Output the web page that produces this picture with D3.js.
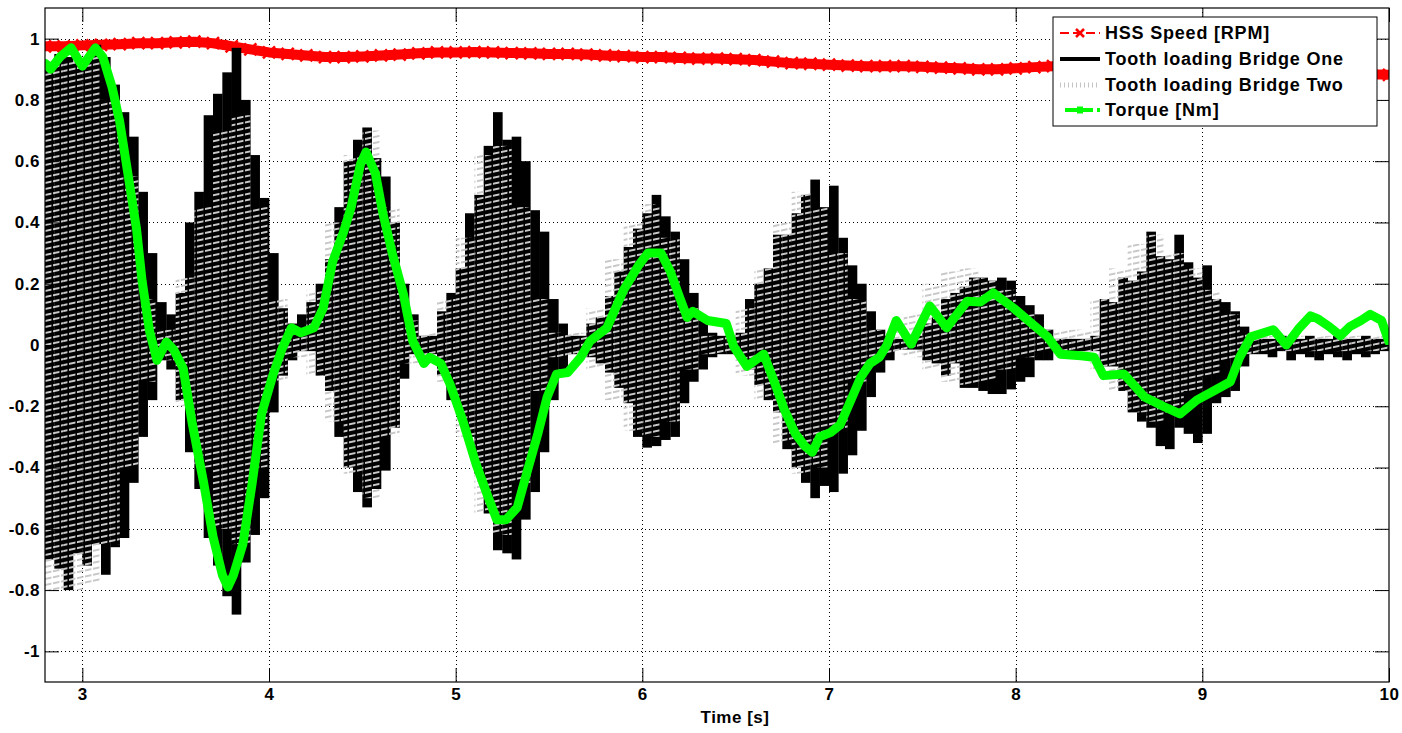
<!DOCTYPE html>
<html>
<head>
<meta charset="utf-8">
<script src="https://cdn.jsdelivr.net/npm/d3@7"></script>
<style>
  body { margin: 0; background: #fff; }
  svg text { font-family: "Liberation Sans", Arial, Helvetica, sans-serif; fill: #000; }
</style>
</head>
<body>
<svg id="chart" width="1402" height="733"></svg>
<script>
// ---- data ---------------------------------------------------------------
// Tooth loading, bridge one: min / max of the signal in 0.05 s windows from 2.8 s
const bridgeOneStart = 2.8;
const bridgeOneStep = 0.05;
const bridgeOneUpper = [
  0.91,0.95,0.94,0.92,0.93,0.98,0.94,0.85,0.76,0.68,
  0.50,0.30,0.14,0.10,0.17,0.40,0.50,0.75,0.82,0.89,
  0.97,0.80,0.62,0.48,0.30,0.12,0.07,0.10,0.14,0.20,
  0.28,0.45,0.60,0.67,0.71,0.61,0.55,0.40,0.20,0.10,
  0.03,0.03,0.11,0.17,0.25,0.43,0.49,0.65,0.76,0.67,
  0.68,0.60,0.44,0.37,0.15,0.07,0.03,0.03,0.07,0.09,
  0.16,0.24,0.32,0.38,0.43,0.49,0.42,0.37,0.28,0.17,
  0.08,0.04,0.03,0.03,0.04,0.15,0.20,0.25,0.36,0.36,
  0.43,0.49,0.54,0.45,0.52,0.35,0.26,0.20,0.11,0.05,
  0.03,0.02,0.02,0.03,0.07,0.09,0.15,0.17,0.19,0.22,
  0.22,0.21,0.22,0.21,0.16,0.13,0.10,0.05,0.02,0.02,
  0.02,0.02,0.03,0.15,0.14,0.22,0.21,0.24,0.37,0.29,
  0.28,0.36,0.27,0.22,0.26,0.15,0.14,0.11,0.06,0.02,
  0.02,0.02,0.03,0.02,0.02,0.03,0.02,0.02,0.03,0.02,
  0.02,0.03,0.02,0.02
];
const bridgeOneLower = [
  -0.70,-0.73,-0.80,-0.68,-0.72,-0.65,-0.75,-0.66,-0.63,-0.45,
  -0.30,-0.18,-0.05,-0.08,-0.18,-0.35,-0.47,-0.63,-0.72,-0.82,
  -0.88,-0.71,-0.62,-0.50,-0.22,-0.10,-0.05,-0.02,-0.02,-0.10,
  -0.15,-0.30,-0.40,-0.48,-0.53,-0.47,-0.41,-0.27,-0.11,-0.03,
  -0.03,-0.03,-0.10,-0.18,-0.22,-0.30,-0.42,-0.55,-0.67,-0.68,
  -0.70,-0.57,-0.48,-0.35,-0.18,-0.08,-0.03,-0.02,-0.04,-0.06,
  -0.09,-0.14,-0.19,-0.30,-0.335,-0.33,-0.31,-0.30,-0.19,-0.12,
  -0.08,-0.04,-0.03,-0.03,-0.04,-0.08,-0.13,-0.18,-0.22,-0.34,
  -0.40,-0.45,-0.50,-0.46,-0.48,-0.42,-0.36,-0.28,-0.17,-0.09,
  -0.05,-0.015,-0.015,-0.015,-0.05,-0.06,-0.10,-0.06,-0.14,-0.14,
  -0.15,-0.16,-0.16,-0.145,-0.12,-0.105,-0.05,-0.05,-0.02,-0.02,
  -0.02,-0.02,-0.02,-0.07,-0.07,-0.15,-0.22,-0.25,-0.27,-0.33,
  -0.34,-0.27,-0.29,-0.32,-0.29,-0.19,-0.17,-0.15,-0.07,-0.03,
  -0.03,-0.04,-0.02,-0.05,-0.03,-0.04,-0.05,-0.03,-0.04,-0.05,
  -0.03,-0.04,-0.03,-0.02
];

// Tooth loading, bridge two: min / max in 0.1 s windows from 2.8 s
const bridgeTwoStart = 2.8;
const bridgeTwoStep = 0.1;
const bridgeTwoUpper = [
  0.93,0.93,0.95,0.80,0.55,0.15,0.05,0.22,0.45,0.70,
  0.75,0.45,0.15,0.05,0.18,0.40,0.62,0.70,0.45,0.08,
  0.04,0.15,0.35,0.62,0.65,0.45,0.15,0.04,0.04,0.12,
  0.28,0.40,0.46,0.35,0.12,0.03,0.03,0.12,0.25,0.40,
  0.50,0.45,0.30,0.15,0.05,0.05,0.10,0.20,0.24,0.25,
  0.22,0.18,0.10,0.05,0.05,0.05,0.15,0.25,0.33,0.36,
  0.30,0.25,0.18,0.10,0.04,0.03,0.03,0.03,0.03,0.03,
  0.03,0.03
];
const bridgeTwoLower = [
  -0.80,-0.80,-0.78,-0.65,-0.40,-0.12,-0.05,-0.20,-0.40,-0.60,
  -0.65,-0.40,-0.12,-0.04,-0.10,-0.25,-0.42,-0.50,-0.30,-0.06,
  -0.03,-0.12,-0.30,-0.55,-0.62,-0.45,-0.15,-0.04,-0.03,-0.08,
  -0.18,-0.28,-0.30,-0.25,-0.08,-0.03,-0.03,-0.10,-0.18,-0.32,
  -0.42,-0.40,-0.28,-0.12,-0.04,-0.03,-0.04,-0.08,-0.12,-0.13,
  -0.12,-0.08,-0.04,-0.02,-0.02,-0.02,-0.08,-0.15,-0.22,-0.25,
  -0.22,-0.15,-0.10,-0.05,-0.03,-0.02,-0.02,-0.02,-0.02,-0.02,
  -0.02,-0.02
];

// HSS speed (normalised), one value every 0.1 s from 2.8 s to 10 s
const speedStart = 2.8;
const speedStep = 0.1;
const speedValue = [
  0.975,0.975,0.978,0.980,0.982,0.985,0.985,0.988,0.990,0.985,
  0.975,0.965,0.955,0.950,0.945,0.940,0.940,0.942,0.945,0.948,
  0.952,0.955,0.955,0.956,0.955,0.953,0.952,0.950,0.950,0.948,
  0.945,0.943,0.940,0.940,0.937,0.935,0.935,0.933,0.930,0.925,
  0.920,0.918,0.915,0.912,0.910,0.910,0.910,0.908,0.905,0.903,
  0.900,0.900,0.903,0.907,0.910,0.912,0.915,0.915,0.915,0.912,
  0.910,0.908,0.905,0.903,0.900,0.898,0.895,0.892,0.890,0.888,
  0.886,0.884,0.882
];

// Torque (normalised)
const torqueTime = [
  2.80,2.83,2.88,2.94,3.00,3.07,3.11,3.16,3.20,3.24,
  3.29,3.32,3.36,3.40,3.45,3.49,3.54,3.59,3.65,3.70,
  3.75,3.78,3.81,3.86,3.91,3.96,4.02,4.07,4.12,4.17,
  4.24,4.29,4.34,4.40,4.44,4.49,4.52,4.57,4.61,4.66,
  4.72,4.77,4.83,4.86,4.92,4.97,5.04,5.11,5.17,5.22,
  5.27,5.33,5.38,5.44,5.49,5.54,5.60,5.67,5.72,5.81,
  5.90,5.98,6.03,6.10,6.15,6.20,6.24,6.27,6.35,6.45,
  6.49,6.56,6.65,6.71,6.76,6.82,6.87,6.91,6.95,7.01,
  7.06,7.11,7.17,7.22,7.27,7.31,7.36,7.44,7.54,7.63,
  7.74,7.81,7.88,7.99,8.09,8.17,8.24,8.35,8.42,8.47,
  8.58,8.69,8.79,8.88,8.97,9.06,9.15,9.20,9.26,9.38,
  9.45,9.52,9.58,9.62,9.68,9.74,9.79,9.85,9.90,9.96,
  10.00
];
const torqueValue = [
  0.92,0.90,0.94,0.97,0.91,0.97,0.94,0.84,0.73,0.575,
  0.38,0.21,0.045,-0.05,0.01,-0.016,-0.076,-0.26,-0.45,-0.625,
  -0.75,-0.79,-0.75,-0.65,-0.45,-0.225,-0.10,-0.0125,0.056,0.04,
  0.056,0.12,0.27,0.37,0.45,0.59,0.63,0.56,0.43,0.30,
  0.166,0.013,-0.06,-0.04,-0.06,-0.128,-0.25,-0.39,-0.49,-0.57,
  -0.57,-0.53,-0.42,-0.29,-0.17,-0.095,-0.09,-0.04,0.013,0.056,
  0.18,0.26,0.30,0.30,0.24,0.155,0.09,0.11,0.08,0.07,
  -0.005,-0.07,-0.03,-0.125,-0.21,-0.29,-0.33,-0.35,-0.30,-0.285,
  -0.26,-0.19,-0.105,-0.06,-0.04,0.0,0.08,0.003,0.127,0.056,
  0.143,0.14,0.17,0.12,0.068,0.027,-0.03,-0.035,-0.04,-0.10,
  -0.095,-0.17,-0.20,-0.225,-0.18,-0.15,-0.12,-0.04,0.027,0.05,
  0.0,0.056,0.095,0.085,0.06,0.03,0.06,0.08,0.10,0.08,
  0.01
];

// Axes
const xDomain = [2.8, 10];
const yDomain = [-1.1, 1.1];
const xTicks = [3, 4, 5, 6, 7, 8, 9, 10];
const xTickLabels = ["3", "4", "5", "6", "7", "8", "9", "10"];
const yTicks = [-1, -0.8, -0.6, -0.4, -0.2, 0, 0.2, 0.4, 0.6, 0.8, 1];
const yTickLabels = ["-1", "-0.8", "-0.6", "-0.4", "-0.2", "0", "0.2", "0.4", "0.6", "0.8", "1"];
const xLabel = "Time [s]";
const legendLabels = ["HSS Speed [RPM]", "Tooth loading Bridge One", "Tooth loading Bridge Two", "Torque [Nm]"];

// ---- layout -------------------------------------------------------------
const margin = { left: 45, right: 13, top: 8, bottom: 51 };
const W = 1402, H = 733;
const pw = W - margin.left - margin.right;
const ph = H - margin.top - margin.bottom;

const svg = d3.select("#chart");
const defs = svg.append("defs");
defs.append("clipPath").attr("id", "plotClip")
  .append("rect").attr("width", pw).attr("height", ph);

// slanted dash hatch used for the dotted light-grey trace
const hatch = defs.append("pattern").attr("id", "bridgeTwoHatch")
  .attr("patternUnits", "userSpaceOnUse")
  .attr("patternTransform", "skewY(-12)")
  .attr("width", 8).attr("height", 6);
hatch.append("rect").attr("x", 0).attr("y", 0).attr("width", 6.5).attr("height", 2).attr("fill", "#c8c8c8");

const g = svg.append("g").attr("transform", `translate(${margin.left},${margin.top})`);
const x = d3.scaleLinear().domain(xDomain).range([0, pw]);
const y = d3.scaleLinear().domain(yDomain).range([ph, 0]);

g.append("rect").attr("width", pw).attr("height", ph).attr("fill", "#fff");

// grid
const grid = g.append("g").attr("stroke", "#000").attr("stroke-width", 1)
  .attr("stroke-dasharray", "1,3").attr("shape-rendering", "crispEdges");
grid.selectAll("line.vx").data(xTicks.filter(t => t < xDomain[1])).join("line")
  .attr("x1", d => Math.round(x(d)) + 0.5).attr("x2", d => Math.round(x(d)) + 0.5)
  .attr("y1", 0).attr("y2", ph);
grid.selectAll("line.hy").data(yTicks).join("line")
  .attr("y1", d => Math.round(y(d)) + 0.5).attr("y2", d => Math.round(y(d)) + 0.5)
  .attr("x1", 0).attr("x2", pw);

const plot = g.append("g").attr("clip-path", "url(#plotClip)");

// HSS speed
const speedPts = speedValue.map((v, i) => [speedStart + i * speedStep, v]);
const line = d3.line().x(d => x(d[0])).y(d => y(d[1]));
plot.append("path").datum(speedPts).attr("d", line)
  .attr("fill", "none").attr("stroke", "#ff0000").attr("stroke-width", 10)
  .attr("stroke-linejoin", "round");
plot.append("g").selectAll("path").data(speedPts).join("path")
  .attr("transform", d => `translate(${x(d[0])},${y(d[1])})`)
  .attr("d", "M-6,-6L6,6M-6,6L6,-6")
  .attr("stroke", "#ff0000").attr("stroke-width", 2.5);

// bridge one
plot.append("g").selectAll("rect").data(bridgeOneUpper.map((u, i) => ({
  t: bridgeOneStart + i * bridgeOneStep, hi: u, lo: bridgeOneLower[i]
}))).join("rect")
  .attr("x", d => x(d.t))
  .attr("width", d => x(d.t + bridgeOneStep) - x(d.t) + 0.3)
  .attr("y", d => y(d.hi))
  .attr("height", d => y(d.lo) - y(d.hi))
  .attr("fill", "#000");

// bridge two
plot.append("g").selectAll("rect").data(bridgeTwoUpper.map((u, i) => ({
  t: bridgeTwoStart + i * bridgeTwoStep, hi: u, lo: bridgeTwoLower[i]
}))).join("rect")
  .attr("x", d => x(d.t))
  .attr("width", d => x(d.t + bridgeTwoStep) - x(d.t))
  .attr("y", d => y(d.hi))
  .attr("height", d => y(d.lo) - y(d.hi))
  .attr("fill", "url(#bridgeTwoHatch)");

// torque
plot.append("path").datum(torqueTime.map((t, i) => [t, torqueValue[i]])).attr("d", line)
  .attr("fill", "none").attr("stroke", "#00ff00").attr("stroke-width", 9)
  .attr("stroke-linejoin", "round").attr("stroke-linecap", "round");

// axes (ticks inside, mirrored on top/right)
const tickLen = 14;
const axB = g.append("g").attr("transform", `translate(0,${ph})`)
  .call(d3.axisBottom(x).tickValues(xTicks).tickFormat((d, i) => xTickLabels[i])
    .tickSizeInner(-tickLen).tickSizeOuter(0).tickPadding(6));
const axL = g.append("g")
  .call(d3.axisLeft(y).tickValues(yTicks).tickFormat((d, i) => yTickLabels[i])
    .tickSizeInner(-tickLen).tickSizeOuter(0).tickPadding(5));
const axT = g.append("g")
  .call(d3.axisTop(x).tickValues(xTicks).tickFormat("").tickSizeInner(-tickLen).tickSizeOuter(0));
const axR = g.append("g").attr("transform", `translate(${pw},0)`)
  .call(d3.axisRight(y).tickValues(yTicks).tickFormat("").tickSizeInner(-tickLen).tickSizeOuter(0));
[axB, axL, axT, axR].forEach(a => {
  a.select(".domain").remove();
  a.selectAll("line").attr("stroke", "#000").attr("stroke-width", 1);
  a.selectAll("text").attr("font-size", 17).attr("font-weight", "bold")
    .attr("letter-spacing", "0.5px").attr("fill", "#000");
});
g.append("rect").attr("width", pw).attr("height", ph)
  .attr("fill", "none").attr("stroke", "#000").attr("stroke-width", 1.2);

g.append("text").attr("x", pw / 2 + 18).attr("y", ph + 41)
  .attr("text-anchor", "middle").attr("font-size", 17).attr("font-weight", "bold")
  .attr("letter-spacing", "0.5px").text(xLabel);

// legend
const lg = svg.append("g").attr("transform", "translate(1053,17)");
lg.append("rect").attr("width", 324).attr("height", 109)
  .attr("fill", "#fff").attr("stroke", "#000").attr("stroke-width", 1);
const rowY = [16, 42, 68, 93];
const sx0 = 7, sx1 = 47, tx = 52;
// speed sample
lg.append("line").attr("x1", sx0).attr("x2", sx1).attr("y1", rowY[0]).attr("y2", rowY[0])
  .attr("stroke", "#ff0000").attr("stroke-width", 2).attr("stroke-dasharray", "9,4");
lg.append("path").attr("transform", `translate(${(sx0 + sx1) / 2},${rowY[0]})`)
  .attr("d", "M-4,-4L4,4M-4,4L4,-4").attr("stroke", "#ff0000").attr("stroke-width", 2.5);
// bridge one sample
lg.append("line").attr("x1", sx0).attr("x2", sx1).attr("y1", rowY[1]).attr("y2", rowY[1])
  .attr("stroke", "#000").attr("stroke-width", 4);
// bridge two sample
lg.append("line").attr("x1", sx0).attr("x2", sx1).attr("y1", rowY[2]).attr("y2", rowY[2])
  .attr("stroke", "#c4c4c4").attr("stroke-width", 5).attr("stroke-dasharray", "1,3");
// torque sample
lg.append("line").attr("x1", sx0 + 5).attr("x2", sx1).attr("y1", rowY[3]).attr("y2", rowY[3])
  .attr("stroke", "#00ff00").attr("stroke-width", 4).attr("stroke-dasharray", "28,4");
lg.append("rect").attr("x", (sx0 + sx1) / 2 - 3).attr("y", rowY[3] - 3.5).attr("width", 6).attr("height", 7)
  .attr("fill", "#00ff00");
lg.selectAll("text.lab").data(legendLabels).join("text")
  .attr("x", tx).attr("y", (d, i) => rowY[i]).attr("dy", "0.36em")
  .attr("font-size", 18).attr("font-weight", "bold").attr("letter-spacing", "0.8px")
  .text(d => d);
</script>
</body>
</html>
